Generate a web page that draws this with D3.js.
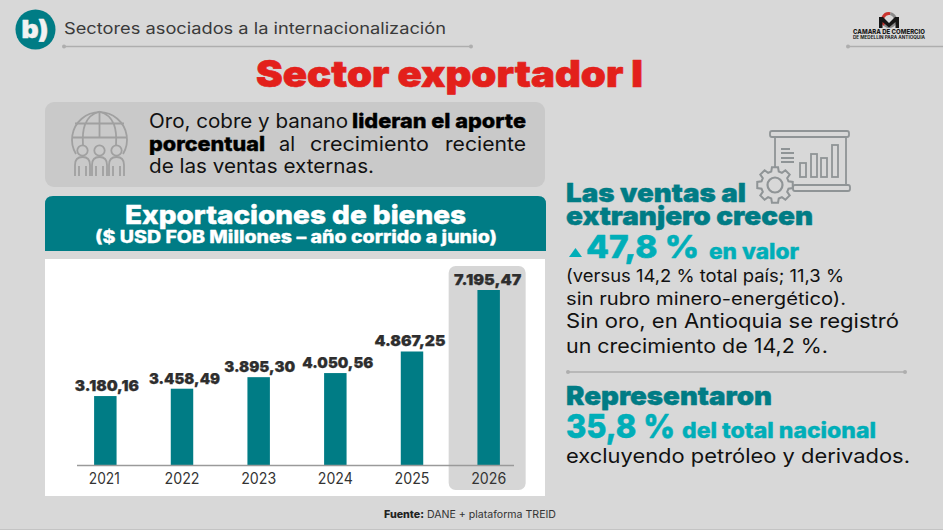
<!DOCTYPE html>
<html lang="es"><head><meta charset="utf-8">
<script src="https://cdn.jsdelivr.net/npm/d3@7/dist/d3.min.js"></script>
<style>html,body{margin:0;padding:0;background:#d8d8d8;overflow:hidden}svg{display:block}text{font-family:Inter,"Open Sans",sans-serif}</style>
</head><body><svg id="c" width="943" height="530"></svg>
<script>
const years=["2021","2022","2023","2024","2025","2026"];
const exportsUSD=[3180.16,3458.49,3895.30,4050.56,4867.25,7195.47];
const highlightYear="2026";
const TEAL="#007c85",CYAN="#00aeb8",RED="#e3201b",INK="#111",GREY="#9b9b9b";
const svg=d3.select("#c");
const fmt=d3.formatLocale({decimal:",",thousands:".",grouping:[3],currency:["",""]}).format(",.2f");
const ones=s=>(s.match(/1/g)||[]).length;
function t(s,x,y,size,weight,fill,w,anchor){
  const e=svg.append("text").attr("x",x).attr("y",y).attr("font-size",size).attr("font-weight",weight).attr("fill",fill).text(s);
  if(anchor)e.attr("text-anchor",anchor);
  if(w)e.attr("textLength",w).attr("lengthAdjust","spacingAndGlyphs");
  if(weight>=800&&size>=14)e.attr("stroke",fill).attr("stroke-width",size*.018).attr("stroke-linejoin","round");
  return e;
}
function rule(x1,x2,y){
  svg.append("line").attr("x1",x1).attr("x2",x2).attr("y1",y).attr("y2",y).attr("stroke","#aeaeae").attr("stroke-width",1.3);
  [x1,x2].forEach(x=>{if(x<940)svg.append("circle").attr("cx",x).attr("cy",y).attr("r",2).attr("fill","#aeaeae");});
}
svg.append("rect").attr("width",943).attr("height",530).attr("fill","#d8d8d8");
svg.append("line").attr("x1",0).attr("x2",943).attr("y1",529.5).attr("y2",529.5).attr("stroke","#c4c4c4");

// header
svg.append("circle").attr("cx",35.5).attr("cy",29.5).attr("r",20).attr("fill",TEAL);
t("b)",35,38,25,900,"#f2f2f2",27,"middle");
t("Sectores asociados a la internacionalización",64,34,15.5,400,"#3a3a3a",382);
rule(64,471,46.5);
rule(848,943,46.5);
t("Sector exportador I",256,87,37,900,RED,387);

// logo
const logo=svg.append("g");
logo.append("path").attr("d",d3.arc()({innerRadius:5,outerRadius:8,startAngle:-2.4,endAngle:.2})).attr("transform","translate(889,20)").attr("fill","#c9342e");
logo.append("path").attr("d",d3.arc()({innerRadius:5,outerRadius:8,startAngle:.2,endAngle:3.9})).attr("transform","translate(889,20)").attr("fill","#8a8a8a");
logo.append("path").attr("d","M879 28V17h4l6 6 6-6h4v11h-3.500v-6l-6.500 5.500-6.500-5.500v6z").attr("fill","#161616");
t("CAMARA DE COMERCIO",853,34,6.6,800,"#1a1a1a",72);
t("DE MEDELLÍN PARA ANTIOQUIA",853,39,4.6,700,"#1a1a1a",72);

// info box
svg.append("rect").attr("x",45).attr("y",102).attr("width",500).attr("height",85).attr("rx",9).attr("fill","#c9c9c9");
const g1=svg.append("g").attr("fill","none").attr("stroke","#a0a0a0").attr("stroke-width",1.8);
g1.append("path").attr("d","M76 154A27.500 27.500 0 1 1 123 154");
g1.append("path").attr("d","M99.500 111.500V137M99.500 111.500C84 116 82 130 83 145M99.500 111.500C115 116 117 130 116 145M75 123.500H124M72.500 137.500H127");
[82.5,99.5,116.5].forEach(x=>{
  g1.append("path").attr("d",`M${x-7.500} 176V165Q${x-7.500} 157 ${x} 157Q${x+7.500} 157 ${x+7.500} 165V176M${x-3.500} 176V166M${x+3.500} 176V166`).attr("fill","#c9c9c9");
  g1.append("circle").attr("cx",x).attr("cy",150.5).attr("r",5.2).attr("fill","#c9c9c9");
});
t("Oro, cobre y banano ",149,128,20,400,INK,199);
t("lideran el aporte",352,128,20,800,"#000",174);
t("porcentual",149,151,20,800,"#000",116);
t("al",279,151,20,400,INK,16);
t("crecimiento",310,151,20,400,INK,119);
t("reciente",445,151,20,400,INK,81);
t("de las ventas externas.",149,173,20,400,INK,225);

// banner
svg.append("path").attr("d","M45 251V204Q45 196 53 196H538Q546 196 546 204V251Z").attr("fill",TEAL);
t("Exportaciones de bienes",125,224,26,800,"#fff",341);
t("($ USD FOB Millones – año corrido a junio)",95,243,17,800,"#fff",402);

// chart
svg.append("rect").attr("x",45).attr("y",259).attr("width",500).attr("height",237).attr("fill","#fff");
const x=d3.scaleBand().domain(years).range([67,527]).paddingInner(.707).paddingOuter(.3535);
const y=d3.scaleLinear().domain([570,d3.max(exportsUSD)]).range([465,290]);
svg.append("rect").attr("x",x(highlightYear)+x.bandwidth()/2-40).attr("y",266).attr("width",77).attr("height",224).attr("rx",7).attr("fill","#d6d6d6");
const data=years.map((yr,i)=>({yr,v:exportsUSD[i]}));
svg.selectAll("rect.bar").data(data).join("rect").attr("class","bar")
  .attr("x",d=>x(d.yr)).attr("width",x.bandwidth()).attr("y",d=>y(d.v)).attr("height",d=>y.range()[0]-y(d.v)).attr("fill",TEAL);
const ax=svg.append("g").attr("transform","translate(0,465)").call(d3.axisBottom(x).tickSize(0).tickPadding(6));
ax.select(".domain").attr("d","M77 0.500H514").attr("stroke","#9a9a9a").attr("stroke-width",1.3);
ax.selectAll("text").attr("font-size",15.5).attr("font-family","Inter").attr("fill","#333").attr("y",8)
  .attr("x",d=>d==="2021"?-1:0)
  .attr("textLength",d=>35-4*ones(d)).attr("lengthAdjust","spacingAndGlyphs");
svg.selectAll("text.val").data(data).join("text").attr("class","val")
  .attr("x",d=>x(d.yr)+x.bandwidth()/2+(d.yr==="2025"?-2:d.yr==="2026"?-1:d.yr==="2021"?1.5:d.yr==="2022"||d.yr==="2024"?2.5:1))
  .attr("y",d=>y(d.v)-5).attr("text-anchor","middle")
  .attr("font-size",15).attr("font-weight",900).attr("fill","#2e2e2e").attr("stroke","#2e2e2e").attr("stroke-width",.25)
  .attr("textLength",d=>71-3.5*ones(fmt(d.v))).attr("lengthAdjust","spacingAndGlyphs")
  .text(d=>fmt(d.v));

// right icon
const g2=svg.append("g").attr("fill","none").attr("stroke","#8f9496").attr("stroke-width",1.8);
g2.append("rect").attr("x",770).attr("y",131).attr("width",79).attr("height",6).attr("rx",2);
g2.append("path").attr("d","M775 137V168M846 137V186");
g2.append("rect").attr("x",793).attr("y",185).attr("width",57).attr("height",6).attr("rx",2);
[[800,163],[811,154],[821,158],[832,145]].forEach(([a,b])=>g2.append("rect").attr("x",a).attr("y",b).attr("width",6).attr("height",177-b));
g2.append("path").attr("d","M781 149H790M781 153H794M781 158H794M781 162H794");
const gear=d3.range(8).map(i=>i*Math.PI/4);
let gd="";gear.forEach((a,i)=>{const p=(r,t)=>[775+r*Math.sin(t),185-r*Math.cos(t)];
 gd+=(i?"L":"M")+p(18,a-.17)+"L"+p(18,a+.17)+"L"+p(14,a+.27)+"L"+p(14,a+.515);});
g2.append("path").attr("d",gd+"Z").attr("fill","#d8d8d8").attr("stroke-width",2);
g2.append("circle").attr("cx",775).attr("cy",185).attr("r",7.500).attr("stroke-width",2.2);

// right text
t("Las ventas al",566,201.5,26,900,TEAL,180);
t("extranjero crecen",566,225,26,900,TEAL,247);
svg.append("path").attr("d","M569 257L575.500 248L582 257Z").attr("fill",CYAN);
t("47,8 %",586,258,31,800,CYAN,113);
t("en valor",709,259,21,800,CYAN,90);
t("(versus 14,2 % total país; 11,3 %",566,282,17.5,400,INK,278);
t("sin rubro minero-energético).",566,305,17.5,400,INK,280);
t("Sin oro, en Antioquia se registró",566,328,20,400,INK,333);
t("un crecimiento de 14,2 %.",566,353,20,400,INK,262);
rule(568,905,372);
t("Representaron",566,405,26,900,TEAL,206);
t("35,8 %",566,438,33,800,CYAN,109);
t("del total nacional",682,438,21,800,CYAN,194);
t("excluyendo petróleo y derivados.",566,462.5,20,400,INK,344);
t("Fuente:",384,518,10.5,800,"#222",40);
t("DANE + plataforma TREID",427,518,10.5,400,"#333",129);
</script></body></html>
